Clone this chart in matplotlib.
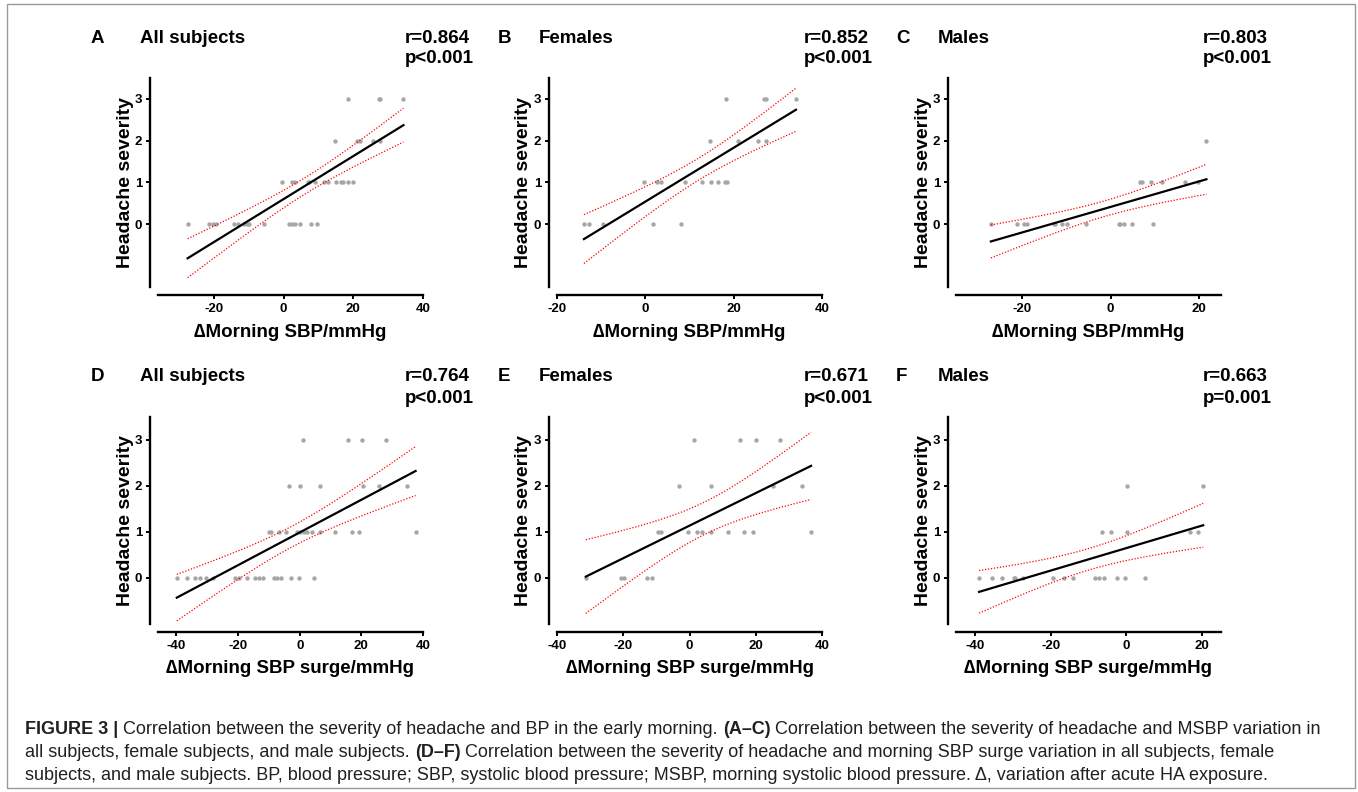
import numpy as np
import matplotlib
matplotlib.use('Agg')
import matplotlib.pyplot as plt
from matplotlib.patches import Rectangle

plt.rcParams['axes.unicode_minus'] = False

W, H, DPI = 1358, 792, 100
FONT = 'Liberation Sans'

# ---- data (x = change in BP, y = headache severity) ----
# A: all subjects, morning SBP
a_x = [18.5, 27.3, 27.6, 34.4,
       14.7, 21.0, 21.8, 25.8, 27.7,
       -0.4, 2.5, 3.2, 7.0, 7.3, 9.1, 11.6, 12.7, 15.1, 16.6, 17.0, 18.5, 20.0,
       -27.5, -21.5, -20.1, -19.5, -14.2, -13.1, -11.3, -10.5, -9.8, -5.7,
       1.6, 2.5, 3.2, 4.8, 7.9, 9.6]
a_y = [3] * 4 + [2] * 5 + [1] * 13 + [0] * 16

# B: females, morning SBP
b_x = [18.3, 26.9, 27.4, 34.1,
       14.7, 20.9, 25.6, 27.4,
       -0.2, 2.7, 3.5, 9.0, 12.8, 14.9, 16.4, 18.1, 18.6,
       -13.9, -12.7, -9.5, 1.7, 8.1]
b_y = [3] * 4 + [2] * 4 + [1] * 9 + [0] * 5

# C: males, morning SBP
c_x = [21.7,
       6.7, 7.2, 9.1, 11.7, 16.9, 19.9,
       -27.1, -21.1, -19.5, -18.9, -12.9, -12.5, -11.1, -9.9, -5.6,
       1.9, 2.1, 3.1, 4.8, 9.6]
c_y = [2] * 1 + [1] * 6 + [0] * 14

# D: all subjects, morning SBP surge
d_x = [1.2, 15.6, 20.3, 28.1,
       -3.4, 0.1, 6.6, 20.6, 25.7, 34.7,
       -10.1, -9.3, -6.6, -4.3, -0.8, 0.0, 1.4, 2.2, 3.9, 6.6, 11.6, 16.9, 19.3, 37.6,
       -39.9, -36.6, -33.9, -32.4, -30.4, -28.1, -21.1, -19.8, -17.0, -14.5,
       -13.1, -11.8, -8.5, -7.4, -6.1, -2.7, -0.4, 4.6]
d_y = [3] * 4 + [2] * 6 + [1] * 14 + [0] * 18

# E: females, morning SBP surge
e_x = [1.3, 15.2, 20.0, 27.4,
       -3.2, 6.5, 25.2, 33.9,
       -9.6, -8.7, -0.5, 2.3, 3.8, 6.5, 11.5, 16.5, 19.1, 36.7,
       -31.3, -20.7, -19.9, -12.7, -11.4]
e_y = [3] * 4 + [2] * 4 + [1] * 10 + [0] * 5

# F: males, morning SBP surge
f_x = [0.1, 20.3,
       -6.4, -4.0, 0.1, 16.7, 19.0,
       -38.9, -35.6, -32.8, -29.7, -29.3, -27.3, -19.3, -16.4, -14.0,
       -8.2, -7.2, -5.8, -2.6, -0.4, 4.8]
f_y = [2] * 2 + [1] * 5 + [0] * 15

letters = ['A', 'B', 'C', 'D', 'E', 'F']
groups = ['All subjects', 'Females', 'Males'] * 2
r_labels = ['r=0.864', 'r=0.852', 'r=0.803', 'r=0.764', 'r=0.671', 'r=0.663']
p_labels = ['p<0.001', 'p<0.001', 'p<0.001', 'p<0.001', 'p<0.001', 'p=0.001']
x_labels = ['\u2206Morning SBP/mmHg'] * 3 + ['\u2206Morning SBP surge/mmHg'] * 3
x_limits = [(-36, 40), (-20, 40), (-35, 25), (-46, 40), (-40, 40), (-45, 25)]
x_ticks = [[-20, 0, 20, 40], [-20, 0, 20, 40], [-20, 0, 20],
           [-40, -20, 0, 20, 40], [-40, -20, 0, 20, 40], [-40, -20, 0, 20]]
y_limits = [(-1.5, 3.5)] * 3 + [(-1.0, 3.5)] * 3
y_ticks = [0, 1, 2, 3]

caption_lines = [
    [('FIGURE 3 |', 'bold'),
     ('Correlation between the severity of headache and BP in the early morning.', 'normal'),
     ('(A\u2013C)', 'bold'),
     ('Correlation between the severity of headache and MSBP variation in', 'normal')],
    [('all subjects, female subjects, and male subjects.', 'normal'),
     ('(D\u2013F)', 'bold'),
     ('Correlation between the severity of headache and morning SBP surge variation in all subjects, female', 'normal')],
    [('subjects, and male subjects. BP, blood pressure; SBP, systolic blood pressure; MSBP, morning systolic '
      'blood pressure. \u0394, variation after acute HA exposure.', 'normal')],
]


def px(x):
    return x / W


def py(y):
    return 1 - y / H


def t_crit(df):
    """Approximate two-sided 95% t quantile (Cornish-Fisher expansion)"""
    z = 1.959964
    return (z + (z**3 + z) / (4 * df) + (5 * z**5 + 16 * z**3 + 3 * z) / (96 * df**2)
            + (3 * z**7 + 19 * z**5 + 17 * z**3 - 15 * z) / (384 * df**3))


def fit_with_ci(x, y):
    x = np.asarray(x, float)
    y = np.asarray(y, float)
    n = len(x)
    slope, icpt = np.polyfit(x, y, 1)
    resid = y - (slope * x + icpt)
    s = np.sqrt(np.sum(resid**2) / (n - 2))
    sxx = np.sum((x - x.mean())**2)
    xs = np.linspace(x.min(), x.max(), 120)
    ys = slope * xs + icpt
    half = t_crit(n - 2) * s * np.sqrt(1 / n + (xs - x.mean())**2 / sxx)
    return xs, ys, ys - half, ys + half


fig = plt.figure(figsize=(W / DPI, H / DPI), dpi=DPI)
fig.patch.set_facecolor('white')

col_left = [158, 557, 956]
col_width = 265
row_top = [78, 417]
row_bottom = [287, 624]
letter_x = [91, 498, 896]
ylabel_x = [125, 524, 923]
title_base = [43, 381]
p_base = [63, 403]
xlabel_base = [337, 673]
offset_pt = 8 * 72 / DPI

datasets = [(a_x, a_y), (b_x, b_y), (c_x, c_y), (d_x, d_y), (e_x, e_y), (f_x, f_y)]

for i, (xv, yv) in enumerate(datasets):
    row, col = divmod(i, 3)
    left = col_left[col]
    ax = fig.add_axes([px(left), py(row_bottom[row]), px(col_width),
                       (row_bottom[row] - row_top[row]) / H])
    ax.set_facecolor('none')

    ax.scatter(xv, yv, s=10, color='#a6a6a6', linewidths=0, zorder=3)
    xs, ys, lo, hi = fit_with_ci(xv, yv)
    ax.plot(xs, ys, color='black', lw=1.6, zorder=4)
    ax.plot(xs, lo, color='red', lw=0.9, ls=(0, (1, 1.4)), zorder=4)
    ax.plot(xs, hi, color='red', lw=0.9, ls=(0, (1, 1.4)), zorder=4)

    ax.set_xlim(*x_limits[i])
    ax.set_ylim(*y_limits[i])
    ax.set_xticks(x_ticks[i])
    ax.set_yticks(y_ticks)
    for side in ['top', 'right']:
        ax.spines[side].set_visible(False)
    for side in ['left', 'bottom']:
        ax.spines[side].set_position(('outward', offset_pt))
        ax.spines[side].set_linewidth(1.7)
    ax.tick_params(direction='out', length=3, width=1.4, pad=2.5,
                   labelsize=9.5, colors='black')
    for lab in ax.get_xticklabels() + ax.get_yticklabels():
        lab.set_fontfamily(FONT)
        lab.set_fontweight('bold')

    # panel texts
    fig.text(px(letter_x[col]), py(title_base[row]), letters[i], fontsize=13.5,
             fontweight='bold', family=FONT, va='baseline')
    fig.text(px(left - 18), py(title_base[row]), groups[i], fontsize=13.5,
             fontweight='bold', family=FONT, va='baseline')
    fig.text(px(left + 247), py(title_base[row]), r_labels[i], fontsize=13.5,
             fontweight='bold', family=FONT, va='baseline')
    fig.text(px(left + 247), py(p_base[row]), p_labels[i], fontsize=13.5,
             fontweight='bold', family=FONT, va='baseline')
    fig.text(px(ylabel_x[col]), py((row_top[row] + row_bottom[row]) / 2), 'Headache severity',
             rotation=90, fontsize=14, fontweight='bold', family=FONT,
             ha='center', va='center')
    fig.text(px(left + col_width / 2), py(xlabel_base[row]), x_labels[i], fontsize=13.5,
             fontweight='bold', family=FONT, ha='center', va='baseline')

# caption with mixed weights
renderer = fig.canvas.get_renderer()
cap_size = 13
cap_color = '#231f20'
probe1 = fig.text(0, 0, 'x x', fontsize=cap_size, family=FONT)
probe2 = fig.text(0, 0, 'xx', fontsize=cap_size, family=FONT)
space_w = probe1.get_window_extent(renderer).width - probe2.get_window_extent(renderer).width
probe1.remove()
probe2.remove()

cap_base = [734, 757, 780]
for line, base in zip(caption_lines, cap_base):
    xpos = 25
    for txt, weight in line:
        t = fig.text(px(xpos), py(base), txt, fontsize=cap_size, fontweight=weight,
                     family=FONT, color=cap_color, va='baseline')
        xpos += t.get_window_extent(renderer).width + space_w

fig.patches.append(Rectangle((px(7), py(788)), px(1348), (788 - 4) / H,
                             transform=fig.transFigure, fill=False,
                             edgecolor='#9a9a9a', lw=1.0))

fig.savefig('out.png', dpi=DPI)
